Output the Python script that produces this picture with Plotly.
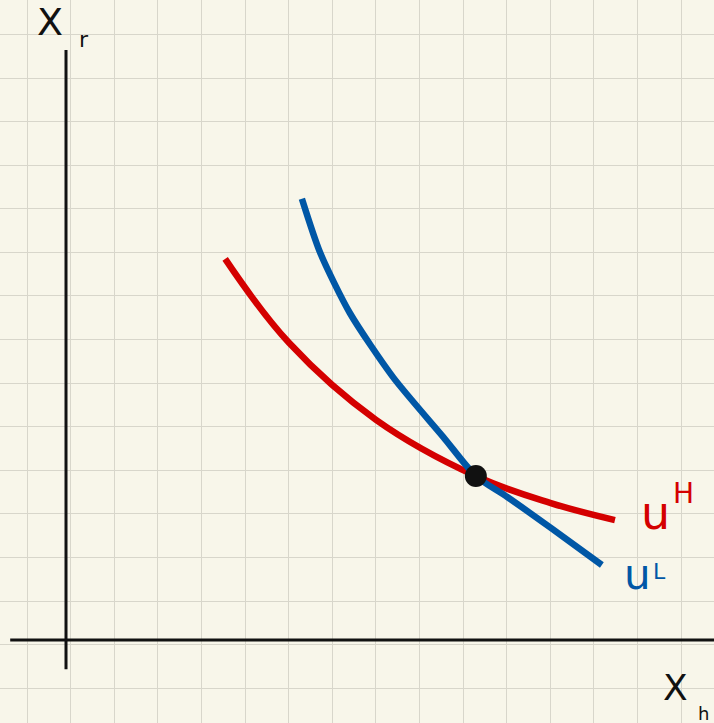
import plotly.graph_objects as go

# Indifference curves (grid units, origin at the axes' crossing)
red_x = [3.65, 5.12, 7.11, 9.40, 11.12, 12.59]
red_y = [8.74, 6.81, 5.05, 3.76, 3.14, 2.75]

blue_x = [5.41, 5.83, 6.51, 7.50, 8.65, 9.40, 10.12, 11.12, 12.29]
blue_y = [10.12, 8.88, 7.50, 6.03, 4.66, 3.76, 3.28, 2.57, 1.72]

# Tangency / crossing point
point_x = [9.40]
point_y = [3.76]

RED = "#d40000"
BLUE = "#0057a6"
INK = "#111111"
PAPER = "#f8f6ea"
GRID = "#d8d6cb"

fig = go.Figure()

fig.add_trace(go.Scatter(x=red_x, y=red_y, mode="lines",
                         line=dict(color=RED, width=6.5, shape="spline", smoothing=1.1),
                         hoverinfo="skip"))
fig.add_trace(go.Scatter(x=blue_x, y=blue_y, mode="lines",
                         line=dict(color=BLUE, width=6.5, shape="spline", smoothing=0.7),
                         hoverinfo="skip"))
fig.add_trace(go.Scatter(x=point_x, y=point_y, mode="markers",
                         marker=dict(color=INK, size=22, line=dict(width=0)),
                         hoverinfo="skip"))

# Coordinate axes drawn as strokes
fig.add_shape(type="line", x0=0, x1=0, y0=-0.67, y1=13.53,
              line=dict(color=INK, width=3), layer="above")
fig.add_shape(type="line", x0=-1.28, x1=15.5, y0=0, y1=0,
              line=dict(color=INK, width=3), layer="above")

font_family = "DejaVu Sans, Liberation Sans, sans-serif"
labels = [
    dict(text="X", x=-0.37, y=14.17, size=38, color=INK),
    dict(text="r", x=0.42, y=13.78, size=22, color=INK),
    dict(text="X", x=13.99, y=-1.10, size=36, color=INK),
    dict(text="h", x=14.63, y=-1.68, size=18, color=INK),
    dict(text="u", x=13.51, y=2.92, size=46, color=RED),
    dict(text="H", x=14.17, y=3.37, size=28, color=RED),
    dict(text="u", x=13.10, y=1.50, size=42, color=BLUE),
    dict(text="L", x=13.62, y=1.58, size=22, color=BLUE),
]
for lab in labels:
    fig.add_annotation(x=lab["x"], y=lab["y"], text=lab["text"], showarrow=False,
                       xanchor="center", yanchor="middle",
                       font=dict(family=font_family, size=lab["size"], color=lab["color"]))

fig.update_layout(
    width=714, height=723,
    margin=dict(l=0, r=0, t=0, b=0),
    paper_bgcolor=PAPER, plot_bgcolor=PAPER,
    showlegend=False,
    xaxis=dict(range=[-1.514, 14.862], tick0=-0.894, dtick=1,
               showgrid=True, gridcolor=GRID, gridwidth=1.3,
               zeroline=False, showline=False, showticklabels=False, ticks=""),
    yaxis=dict(range=[-1.904, 14.679], tick0=-0.11, dtick=1,
               showgrid=True, gridcolor=GRID, gridwidth=1.3,
               zeroline=False, showline=False, showticklabels=False, ticks=""),
)

fig.write_html("out.html")
